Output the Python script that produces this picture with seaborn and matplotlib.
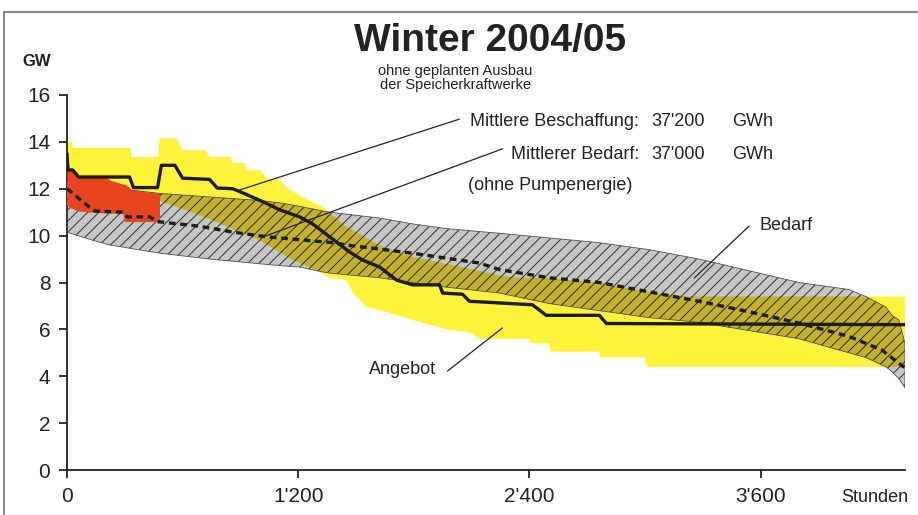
import matplotlib
matplotlib.use('Agg')
import matplotlib.pyplot as plt
import seaborn as sns
from matplotlib.lines import Line2D

# --- data (hours of the winter half-year, GW) ---
# Angebot: range of supply
supply_hi_h = [0, 25, 30, 330, 335, 475, 480, 570, 600, 720, 740, 850, 860, 920, 935, 1000, 1040,
               1100, 1150, 1210, 1330, 1450, 1620, 1790, 1970, 2140, 2245, 2350, 2500, 2760, 3020,
               3230, 4350]
supply_hi = [14.0, 14.0, 13.75, 13.75, 13.35, 13.35, 14.15, 14.15, 13.65, 13.65, 13.35, 13.35, 13.1,
             13.1, 12.8, 12.8, 12.45, 12.4, 12.0, 11.7, 11.2, 10.4, 9.6, 9.1, 8.8, 8.5, 8.3, 8.2,
             8.2, 8.0, 7.6, 7.4, 7.4]
supply_lo_h = [0, 60, 120, 290, 300, 480, 480, 740, 1000, 1170, 1310, 1360, 1450, 1485, 1555, 1675,
               1795, 1970, 2100, 2140, 2400, 2410, 2500, 2510, 2760, 2770, 3000, 3010, 4350]
supply_lo = [11.3, 11.05, 11.0, 10.95, 10.6, 10.6, 11.5, 10.7, 9.8, 8.96, 8.45, 8.2, 8.1, 7.55, 6.95,
             6.7, 6.4, 6.0, 5.85, 5.6, 5.6, 5.4, 5.4, 5.05, 5.05, 4.8, 4.8, 4.4, 4.4]

# red part of the supply band (first hours)
red_h = [0, 15, 60, 120, 200, 230, 290, 300, 340, 420, 480]
red_hi = [13.3, 12.8, 12.55, 12.5, 12.5, 12.35, 12.2, 12.2, 11.95, 11.85, 11.8]
red_lo = [11.3, 11.2, 11.05, 11.0, 10.97, 10.96, 10.95, 10.6, 10.6, 10.6, 10.6]

# Bedarf: range of demand
demand_h = [0, 16, 135, 223, 482, 741, 1000, 1104, 1208, 1327, 1363, 1623, 1794, 1970, 2245, 2504,
            2763, 3022, 3281, 3541, 3800, 4059, 4147, 4251, 4282, 4318, 4350]
demand_hi = [12.3, 12.25, 12.15, 12.05, 11.8, 11.65, 11.5, 11.4, 11.25, 11.05, 11.0, 10.75, 10.5,
             10.3, 10.1, 9.9, 9.7, 9.4, 9.0, 8.5, 8.0, 7.7, 7.4, 6.95, 6.6, 6.4, 5.4]
demand_lo = [10.2, 10.1, 9.8, 9.6, 9.25, 9.0, 8.8, 8.72, 8.66, 8.45, 8.4, 8.2, 8.0, 7.8, 7.55, 7.1,
             6.8, 6.5, 6.3, 5.95, 5.6, 5.0, 4.8, 4.4, 4.2, 3.9, 3.5]

# Mittlere Beschaffung (solid) and Mittlerer Bedarf (dashed)
procure_h = [0, 5, 30, 60, 325, 345, 470, 490, 560, 600, 740, 780, 861, 933, 1016, 1104, 1208, 1275,
             1363, 1467, 1534, 1623, 1711, 1794, 1934, 1950, 2053, 2089, 2416, 2488, 2763, 2800, 4350]
procure = [13.5, 12.8, 12.8, 12.5, 12.5, 12.05, 12.05, 13.0, 13.0, 12.45, 12.4, 12.03, 12.0, 11.75,
           11.45, 11.1, 10.8, 10.5, 9.95, 9.3, 8.96, 8.66, 8.1, 7.9, 7.9, 7.55, 7.5, 7.2, 7.05, 6.6,
           6.6, 6.25, 6.2]
need_h = [0, 104, 145, 290, 311, 430, 467, 689, 861, 1037, 1379, 1452, 1794, 2141, 2245, 2504, 2763,
          3022, 3281, 3541, 3800, 4059, 4230, 4350]
need = [12.0, 11.3, 11.05, 11.0, 10.8, 10.8, 10.6, 10.4, 10.15, 9.95, 9.7, 9.6, 9.25, 8.83, 8.55,
        8.2, 8.0, 7.6, 7.2, 6.75, 6.27, 5.7, 5.12, 4.35]

xticks = [0, 1200, 2400, 3600]
xtick_labels = ['0', "1'200", "2'400", "3'600"]
yticks = [0, 2, 4, 6, 8, 10, 12, 14, 16]

YELLOW = '#fff23a'
RED = '#e8441f'
GRAY = '#c6c6c6'
OLIVE = '#c4b22e'
INK = '#1c1c10'

sns.set_style('ticks')
plt.rcParams['font.family'] = ['Liberation Sans', 'DejaVu Sans']
plt.rcParams['hatch.linewidth'] = 0.7

fig = plt.figure(figsize=(9.18, 5.15), dpi=100)
ax = fig.add_axes([67 / 918, 45 / 515, 838 / 918, 375 / 515])

# supply band
supply_x = supply_lo_h + supply_hi_h[::-1]
supply_y = supply_lo + supply_hi[::-1]
ax.fill(supply_x, supply_y, color=YELLOW, lw=0, zorder=1)

# demand band, hatched
demand = ax.fill_between(demand_h, demand_lo, demand_hi, facecolor=GRAY, edgecolor='#303030',
                         hatch='///', lw=0, zorder=2)
ax.fill_between(demand_h, demand_lo, demand_hi, facecolor='none', edgecolor='#505050', lw=0.6, zorder=4)

# overlap of both bands: supply polygon clipped to the demand band
overlap = ax.fill(supply_x, supply_y, facecolor=OLIVE, edgecolor='#2a2810', hatch='///', lw=0,
                  zorder=3)[0]
overlap.set_clip_path(demand.get_paths()[0], ax.transData)

# red part
ax.fill_between(red_h, red_lo, red_hi, color=RED, lw=0, zorder=5)

# mean lines
sns.lineplot(x=procure_h, y=procure, estimator=None, sort=False, color=INK, lw=2.4, ax=ax, zorder=6)
sns.lineplot(x=need_h, y=need, estimator=None, sort=False, color=INK, lw=2.4, ax=ax, zorder=6)
ax.lines[-1].set_dashes([2.0, 1.4])

ax.set_xlim(0, 4350)
ax.set_ylim(0, 16)
ax.set_xticks(xticks, xtick_labels)
ax.set_yticks(yticks)
ax.tick_params(axis='both', labelsize=15, length=6, width=1.3, pad=6, color='#222', labelcolor='#222')
sns.despine(ax=ax)
for s in ('left', 'bottom'):
    ax.spines[s].set_linewidth(1.3)
    ax.spines[s].set_color('#222')

# labels with leader lines
txt = dict(fontsize=13, color='#222')
ax.text(2970, 14.89, 'Mittlere Beschaffung:', ha='right', va='center', **txt)
ax.text(3035, 14.89, "37'200", ha='left', va='center', **txt)
ax.text(3455, 14.89, 'GWh', ha='left', va='center', **txt)
ax.text(2970, 13.48, 'Mittlerer Bedarf:', ha='right', va='center', **txt)
ax.text(3035, 13.48, "37'000", ha='left', va='center', **txt)
ax.text(3455, 13.48, 'GWh', ha='left', va='center', **txt)
ax.text(2935, 12.12, '(ohne Pumpenergie)', ha='right', va='center', **txt)
ax.text(3593, 10.45, 'Bedarf', ha='left', va='center', **txt)
ax.text(1918, 4.27, 'Angebot', ha='right', va='center', **txt)

leaders = [((2037, 14.97), (897, 11.95)), ((2260, 13.7), (1016, 9.94)),
           ((3541, 10.41), (3256, 8.19)), ((1975, 4.22), (2260, 6.06))]
for (x0, y0), (x1, y1) in leaders:
    ax.plot([x0, x1], [y0, y1], color='#222', lw=0.9, zorder=7)

fig.text(490 / 918, 1 - 41 / 515, 'Winter 2004/05', ha='center', va='center', fontsize=28,
         fontweight='bold', color='#222')
fig.text(455 / 918, 1 - 78 / 515, 'ohne geplanten Ausbau\nder Speicherkraftwerke', ha='center',
         va='center', fontsize=10.5, linespacing=0.95, color='#222')
fig.text(22 / 918, 1 - 62 / 515, 'GW', ha='left', va='center', fontsize=12, fontweight='bold',
         color='#222')
fig.text(908 / 918, 1 - 498 / 515, 'Stunden', ha='right', va='center', fontsize=13, color='#222')

# frame lines of the original page
fig.add_artist(Line2D([4 / 918, 1], [1 - 12 / 515] * 2, color='#8a8a8a', lw=1.5))
fig.add_artist(Line2D([4 / 918] * 2, [0, 1 - 12 / 515], color='#8a8a8a', lw=1.5))

fig.savefig('out.png', dpi=100)
